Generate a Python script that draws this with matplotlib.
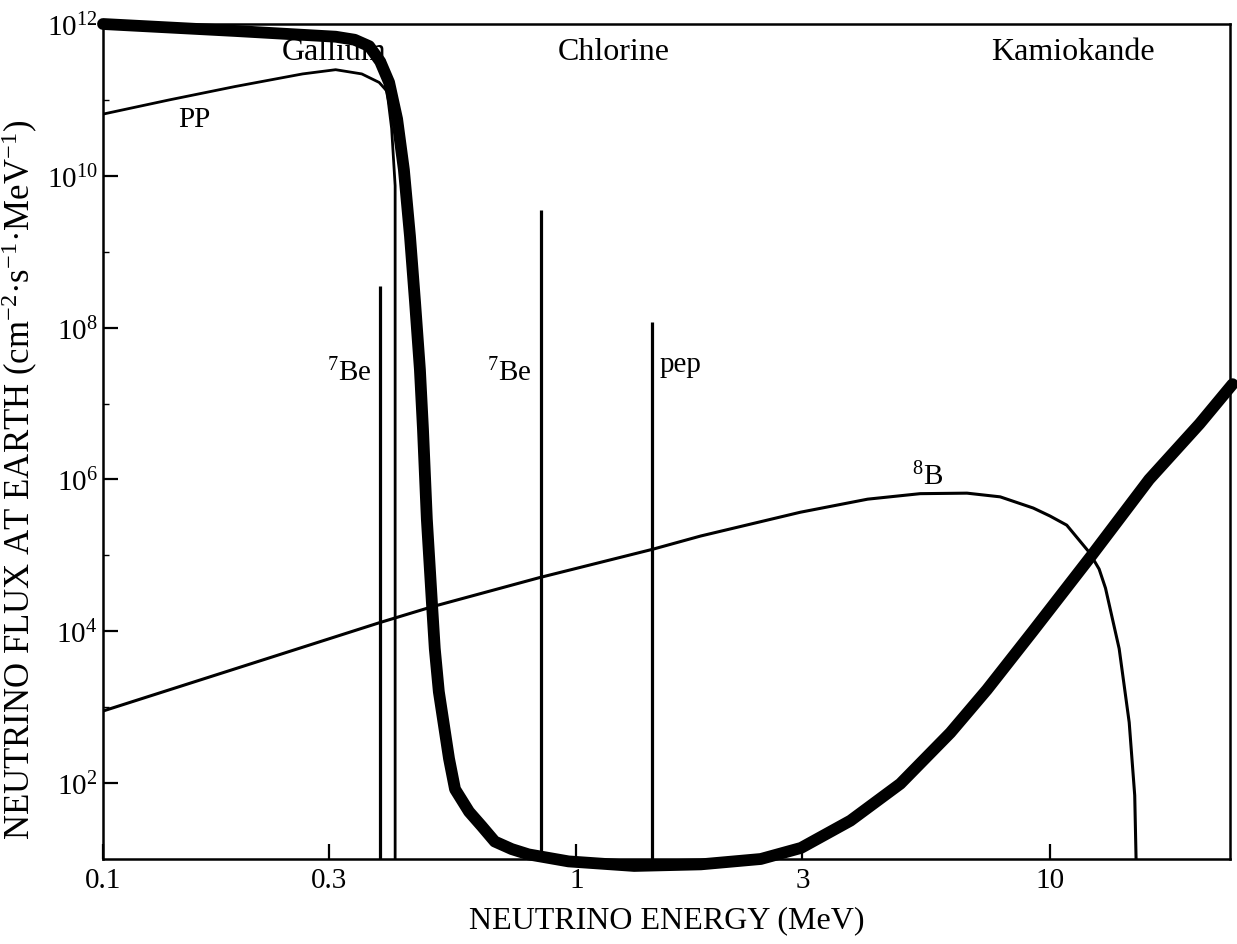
import numpy as np
import matplotlib
matplotlib.use("Agg")
import matplotlib.pyplot as plt
from matplotlib.ticker import FixedLocator, NullFormatter

plt.rcParams['font.family'] = ['Liberation Serif', 'DejaVu Serif']
plt.rcParams['mathtext.fontset'] = 'custom'
plt.rcParams['mathtext.rm'] = 'Liberation Serif'
plt.rcParams['mathtext.default'] = 'regular'

# thick detector-threshold curve (MeV, cm^-2 s^-1 MeV^-1)
thick_E = [0.1, 0.19, 0.31, 0.34, 0.365, 0.385, 0.402, 0.418, 0.432, 0.445,
           0.456, 0.467, 0.474, 0.483, 0.495, 0.502, 0.512, 0.538, 0.554,
           0.593, 0.631, 0.672, 0.73, 0.792, 0.962, 1.324, 1.83, 2.45, 2.98,
           3.79, 4.83, 6.16, 7.36, 9.2, 12.25, 16.2, 20.7, 24.3]
thick_flux = [1.0e12, 8.1e11, 6.8e11, 6.2e11, 5.1e11, 3.2e11, 1.7e11, 5.6e10,
              1.2e10, 1.6e9, 2.2e8, 2.8e7, 4.6e6, 3.0e5, 2.4e4, 5.9e3, 1.6e3,
              2.1e2, 83, 42, 27, 17, 13.5, 11.5, 9.3, 8.1, 8.5, 10, 14, 32, 98,
              4.6e2, 1.7e3, 1.0e4, 1.0e5, 1.0e6, 5.4e6, 1.8e7]

# pp spectrum
pp_E = [0.1, 0.138, 0.19, 0.264, 0.31, 0.352, 0.383, 0.398, 0.407, 0.414, 0.414]
pp_flux = [6.5e10, 1.0e11, 1.5e11, 2.2e11, 2.5e11, 2.2e11, 1.7e11, 1.3e11,
           4.2e10, 7.4e9, 10]

# 8B spectrum
b8_E = [0.1, 0.384, 0.495, 0.836, 1.446, 1.83, 2.97, 4.12, 5.32, 6.68, 7.85,
        9.22, 10.0, 10.85, 12.1, 12.7, 13.1, 14.0, 14.7, 15.1, 15.2]
b8_flux = [8.9e2, 1.3e4, 2.1e4, 5.1e4, 1.2e5, 1.8e5, 3.7e5, 5.5e5, 6.5e5,
           6.6e5, 5.9e5, 4.2e5, 3.3e5, 2.5e5, 1.1e5, 6.6e4, 3.7e4, 5.9e3,
           6.3e2, 69, 10]

# line sources
line_E = [0.384, 0.84, 1.446]
line_top = [3.5e8, 3.5e9, 1.2e8]

xticks = [0.1, 0.3, 1, 3, 10]
xticklabels = ['0.1', '0.3', '1', '3', '10']
yticks = [1e2, 1e4, 1e6, 1e8, 1e10, 1e12]
yticklabels = ['$10^{2}$', '$10^{4}$', '$10^{6}$', '$10^{8}$', '$10^{10}$', '$10^{12}$']

fig = plt.figure(figsize=(12.37, 9.45), dpi=100)
ax = fig.add_axes([103/1237, 1-860/945, (1230-103)/1237, (860-25)/945])
ax.set_xscale('log')
ax.set_yscale('log')
ax.set_xlim(0.1, 24)
ax.set_ylim(10, 1e12)

ax.plot(b8_E, b8_flux, color='black', lw=2.2, zorder=3,
        solid_joinstyle='round')
ax.plot(pp_E, pp_flux, color='black', lw=2.0, zorder=3,
        solid_joinstyle='round')
ax.vlines(line_E, 10, line_top, color='black', lw=2.3, zorder=3)
ax.plot(thick_E, thick_flux, color='black', lw=8.5, solid_capstyle='round',
        solid_joinstyle='round', zorder=4, clip_on=False)

fs = 21
ax.text(0.308, 4.4e11, 'Gallium', fontsize=23, ha='center', va='center', zorder=2)
ax.text(1.196, 4.3e11, 'Chlorine', fontsize=23, ha='center', va='center')
ax.text(11.2, 4.3e11, 'Kamiokande', fontsize=23, ha='center', va='center')
ax.text(0.156, 5.6e10, 'PP', fontsize=fs, ha='center', va='center')
ax.text(0.331, 2.6e7, '$^{7}$Be', fontsize=fs, ha='center', va='center')
ax.text(0.72, 2.6e7, '$^{7}$Be', fontsize=fs, ha='center', va='center')
ax.text(1.66, 3.3e7, 'pep', fontsize=fs, ha='center', va='center')
ax.text(5.51, 1.1e6, '$^{8}$B', fontsize=fs, ha='center', va='center')

ax.xaxis.set_major_locator(FixedLocator(xticks))
ax.set_xticklabels(xticklabels)
ax.xaxis.set_minor_formatter(NullFormatter())
ax.xaxis.set_minor_locator(FixedLocator([]))
ax.yaxis.set_major_locator(FixedLocator(yticks))
ax.set_yticklabels(yticklabels)
ax.yaxis.set_minor_locator(FixedLocator([1e3, 1e5, 1e7, 1e9, 1e11]))
ax.yaxis.set_minor_formatter(NullFormatter())
ax.tick_params(which='major', direction='in', length=11, width=1.6,
               labelsize=fs, pad=6)
ax.tick_params(axis='y', which='major', pad=4)
ax.tick_params(which='minor', direction='in', length=4, width=1.0)
for s in ax.spines.values():
    s.set_linewidth(1.8)

ax.set_xlabel('NEUTRINO ENERGY (MeV)', fontsize=23)
ax.set_ylabel('NEUTRINO FLUX AT EARTH (cm$^{-2}$·s$^{-1}$·MeV$^{-1}$)', fontsize=25)
ax.xaxis.set_label_coords(0.5, -0.055)
ax.yaxis.set_label_coords(-0.056, 0.455)

fig.savefig('out.png', dpi=100)
